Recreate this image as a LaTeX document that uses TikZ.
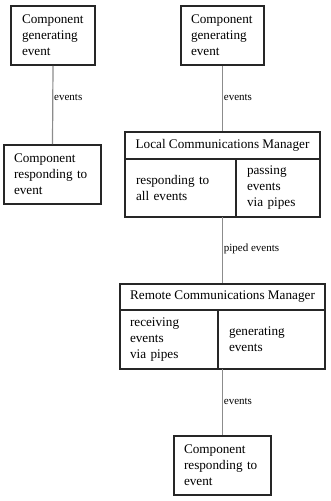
\documentclass[tikz,border=0pt]{standalone}
\usepackage{fontspec}
\setmainfont{Liberation Serif}
\tikzset{
  box/.style={draw=black!85, line width=1.6pt, rectangle, inner ysep=0pt, align=left,
    font=\fontsize{13.2}{16}\selectfont},
  link/.style={draw=black!45, line width=1.2pt},
  lbl/.style={anchor=west, inner sep=0.8pt, font=\fontsize{11}{12}\selectfont}
}
\begin{document}
\begin{tikzpicture}[x=1pt,y=-1pt]
\useasboundingbox (0,0) rectangle (331,501);
% left pair
\node[box, minimum width=84pt, minimum height=59pt, inner xsep=11pt, text width=62pt] (a) at (53,35.5) {Component\\generating\\event};
\node[box, minimum width=97pt, minimum height=59pt, inner xsep=10pt, text width=77pt] (b) at (52.5,174.5) {Component\\responding to\\event};
% right top
\node[box, minimum width=83pt, minimum height=59pt, inner xsep=10pt, text width=63pt] (c) at (222.5,35.5) {Component\\generating\\event};
% LCM
\node[box, minimum width=195pt, minimum height=27pt, inner xsep=0pt, align=center] (lcmh) at (222.5,145.5) {Local Communications Manager};
\node[box, minimum width=111pt, minimum height=58pt, inner xsep=11pt, text width=89pt] (lcml) at (180.5,188) {responding to\\all events};
\node[box, minimum width=84pt, minimum height=58pt, inner xsep=11pt, text width=62pt] (lcmr) at (278,188) {passing\\events\\via pipes};
\coordinate (lcmb) at (222.5,217);
% RCM
\node[box, minimum width=205pt, minimum height=26pt, inner xsep=0pt, align=center] (rcmh) at (222.5,297) {Remote Communications Manager};
\node[box, minimum width=98pt, minimum height=59pt, inner xsep=10pt, text width=78pt] (rcml) at (169,339.5) {receiving\\events\\via pipes};
\node[box, minimum width=107pt, minimum height=59pt, inner xsep=11pt, text width=85pt] (rcmr) at (271.5,339.5) {generating\\events};
\coordinate (rcmb) at (222.5,369);
% bottom
\node[box, minimum width=97pt, minimum height=59pt, inner xsep=10pt, text width=77pt] (d) at (222.5,465.5) {Component\\responding to\\event};
% connectors
\draw[link] (a.south) -- node[lbl, pos=0.41] {events} (b.north);
\draw[link] (c.south) -- node[lbl, pos=0.49] {events} (lcmh.north);
\draw[link] (lcmb) -- node[lbl, pos=0.48] {piped events} (rcmh.north);
\draw[link] (rcmb) -- node[lbl, pos=0.49] {events} (d.north);
\end{tikzpicture}
\end{document}
